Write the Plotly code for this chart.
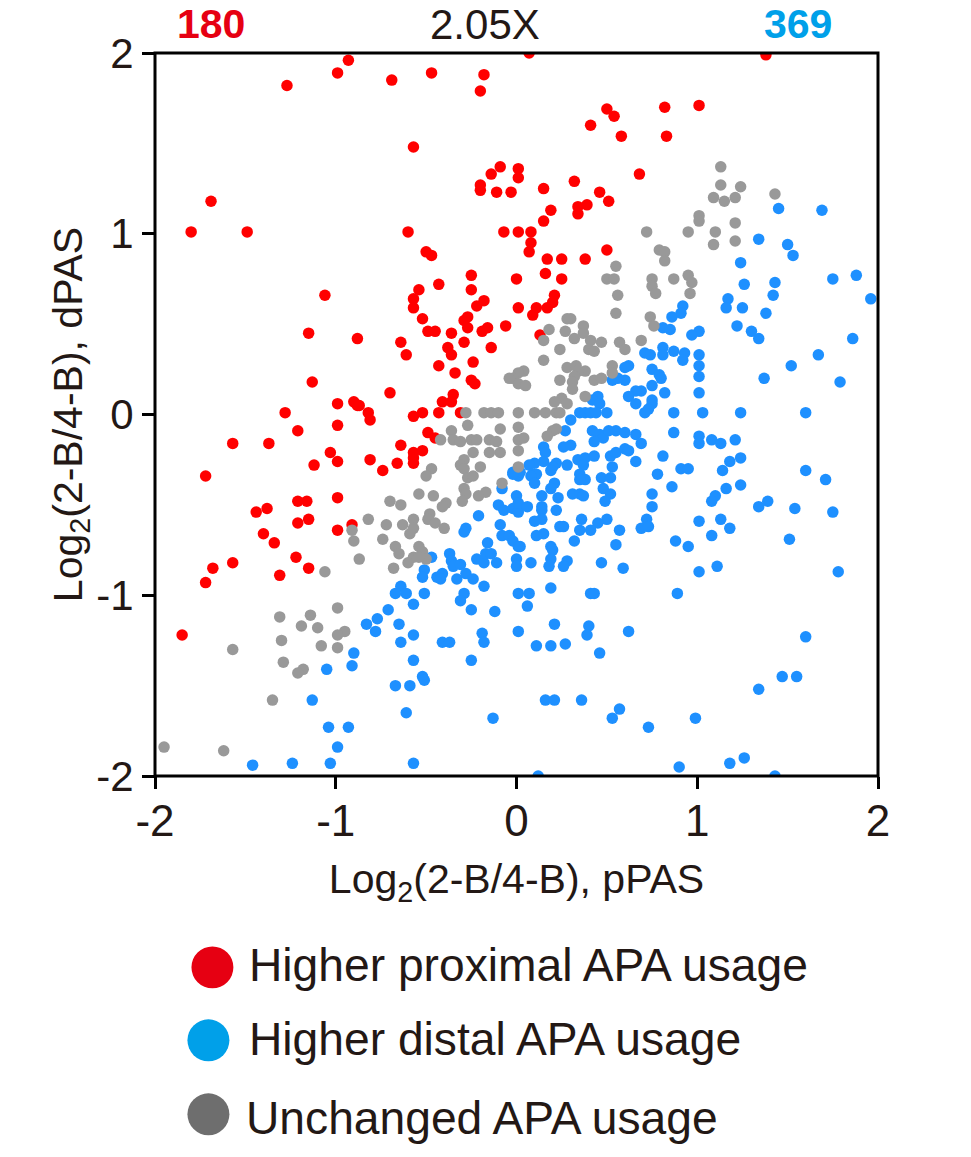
import plotly.graph_objects as go

title_left = "180"
title_mid = "2.05X"
title_right = "369"
tick_vals = [-2, -1, 0, 1, 2]
tick_text = ["-2", "-1", "0", "1", "2"]
legend_labels = ["Higher proximal APA usage", "Higher distal APA usage", "Unchanged APA usage"]

red_x = [-0.93,-0.99,-1.27,-0.69,-0.47,-0.18,-0.20,-0.57,-0.09,-0.14,0.01,0.01,-0.20,-0.20,-0.11,-0.03,-1.69,-1.80,-1.49,-0.60,-0.07,0.01,-0.50,-0.47,-0.25,0.00,-0.43,-0.25,-0.54,-1.06,-0.57,-0.57,-0.18,-0.22,0.01,-0.52,-0.27,-0.29,-0.27,-0.16,-0.19,-0.06,-1.15,-0.88,-0.49,-0.45,-0.36,-0.29,-0.64,-0.38,-0.36,-0.14,-0.61,-0.24,-0.43,-0.34,-0.25,-0.23,-1.13,-0.70,-0.35,-0.41,-0.36,-0.99,-0.90,-0.87,-0.88,-0.82,
 -1.28,-0.57,-0.52,-0.43,-0.31,-0.99,-0.81,-1.21,-1.57,-1.37,-0.64,-0.49,-0.45,-0.52,-0.57,-0.57,-0.57,-1.03,-0.99,-0.81,-0.66,-1.12,-0.74,-1.72,-1.21,-1.16,-0.99,-1.38,-1.44,-1.21,-1.15,-0.91,-0.99,-1.40,-1.34,-1.22,-1.57,-1.15,-1.68,-1.31,-1.72,-1.85,
 0.07,1.38,0.50,0.54,0.82,1.01,0.41,0.58,0.83,0.68,0.32,0.15,0.46,0.51,0.39,0.34,0.34,0.19,0.15,0.08,0.08,0.07,0.50,0.17,0.25,0.38,0.16,0.25,0.21,0.20,0.17,0.11,0.09,0.13]
red_y = [1.96,1.89,1.82,1.85,1.89,1.88,1.79,1.48,1.37,1.33,1.36,1.31,1.27,1.24,1.23,1.23,1.18,1.01,1.01,1.01,1.01,1.01,0.90,0.88,0.77,0.75,0.72,0.69,0.69,0.66,0.64,0.59,0.63,0.60,0.59,0.53,0.54,0.52,0.48,0.48,0.46,0.49,0.45,0.42,0.46,0.46,0.45,0.40,0.40,0.37,0.33,0.37,0.33,0.29,0.27,0.23,0.19,0.17,0.18,0.12,0.11,0.07,0.07,0.06,0.07,0.05,0.05,0.01,
 0.01,-0.01,0.01,0.01,0.01,-0.06,-0.03,-0.09,-0.16,-0.16,-0.17,-0.10,-0.13,-0.20,-0.21,-0.24,-0.27,-0.21,-0.26,-0.25,-0.27,-0.28,-0.31,-0.34,-0.48,-0.48,-0.46,-0.52,-0.54,-0.60,-0.58,-0.61,-0.64,-0.66,-0.71,-0.79,-0.82,-0.85,-0.85,-0.89,-0.93,-1.22,
 2.00,1.99,1.69,1.65,1.70,1.71,1.60,1.54,1.54,1.33,1.29,1.25,1.23,1.18,1.16,1.15,1.11,1.13,1.07,1.01,0.95,0.90,0.91,0.86,0.86,0.86,0.78,0.75,0.66,0.62,0.59,0.59,0.55,0.44]

gray_x = [1.13,1.13,1.24,1.09,1.15,1.21,1.43,1.01,1.01,1.21,0.72,0.95,1.10,1.09,1.21,0.79,0.82,0.82,0.55,0.50,0.54,0.75,0.75,0.77,0.87,0.95,0.97,0.96,0.56,0.55,0.74,0.76,0.30,0.28,0.18,0.27,0.37,0.37,0.32,0.41,0.47,0.15,0.57,0.60,0.69,0.24,0.40,0.43,0.15,0.28,0.33,0.38,0.34,0.53,0.53,0.32,0.31,0.24,0.43,0.47,0.31,0.38,0.25,0.21,0.28,0.04,0.01,-0.02,0.01,0.05,0.01,0.10,0.16,0.22,0.24,
 -0.04,-0.28,-0.18,-0.14,-0.10,
 -0.27,-0.36,-0.09,0.01,0.01,-0.42,-0.35,-0.31,-0.25,-0.22,-0.15,-0.11,-0.09,-0.15,-0.24,0.01,-0.29,-0.31,-0.29,-0.20,0.01,-0.47,-0.50,-0.27,-0.24,-0.08,-0.29,-0.28,-0.17,-0.21,-0.30,-0.54,-0.46,-0.70,-0.64,-0.39,-0.41,-0.82,-0.72,-0.63,-0.57,-0.48,-0.49,-0.45,-0.40,-0.57,-0.59,-0.91,-0.90,-0.74,-0.67,-0.65,-0.54,-0.52,-0.57,-0.50,-0.54,-0.60,-0.87,-0.68,-1.06,-0.99,-1.31,-1.14,-1.19,-1.10,-0.95,-0.99,-1.30,-1.08,-0.99,-1.57,-1.29,-1.18,-1.21,-1.35,-1.95,-1.62,
 0.17,0.20,0.22,0.04]
gray_y = [1.37,1.27,1.26,1.20,1.18,1.20,1.22,1.10,1.07,1.06,1.01,1.01,1.01,0.94,0.96,0.91,0.90,0.85,0.82,0.75,0.75,0.75,0.71,0.67,0.75,0.77,0.73,0.67,0.66,0.56,0.54,0.49,0.53,0.53,0.47,0.46,0.49,0.45,0.42,0.41,0.40,0.41,0.40,0.36,0.41,0.36,0.36,0.35,0.30,0.26,0.27,0.24,0.24,0.27,0.23,0.21,0.18,0.19,0.19,0.20,0.14,0.10,0.09,0.07,0.06,0.24,0.23,0.20,0.17,0.16,0.01,0.01,0.01,0.01,0.01,
 0.20,0.01,0.01,0.01,0.01,
 -0.06,-0.09,-0.08,-0.07,-0.14,-0.14,-0.14,-0.15,-0.14,-0.14,-0.14,-0.15,-0.21,-0.21,-0.21,-0.20,-0.25,-0.28,-0.30,-0.29,-0.29,-0.30,-0.34,-0.35,-0.34,-0.38,-0.41,-0.44,-0.43,-0.45,-0.48,-0.44,-0.45,-0.48,-0.50,-0.49,-0.51,-0.58,-0.61,-0.61,-0.58,-0.55,-0.58,-0.60,-0.63,-0.63,-0.66,-0.64,-0.70,-0.69,-0.73,-0.77,-0.73,-0.76,-0.79,-0.80,-0.79,-0.82,-0.80,-0.85,-0.87,-1.07,-1.12,-1.11,-1.17,-1.18,-1.20,-1.22,-1.25,-1.28,-1.29,-1.30,-1.37,-1.41,-1.43,-1.58,-1.84,-1.86,
 -0.12,-0.09,-0.08,-0.13]

blue_x = [-0.47,-0.37,-0.36,-0.35,-0.31,-0.22,-0.18,-0.17,-0.14,-0.11,-0.16,0.00,0.00,-0.08,-0.04,-0.02,0.01,-0.09,-0.10,-0.07,-0.02,0.01,0.00,0.01,-0.08,-0.02,0.01,-0.21,-0.28,-0.29,-0.51,-0.52,-0.41,-0.44,-0.42,-0.33,-0.28,-0.24,-0.18,-0.64,-0.67,-0.61,-0.51,-0.57,-0.29,-0.31,-0.25,-0.12,0.01,0.01,-0.71,-0.77,-0.83,-0.78,-0.65,-0.57,-0.64,-0.41,-0.37,-0.19,-0.18,-0.90,-0.91,-1.05,-0.57,-0.25,-0.52,-0.51,-0.67,-0.59,-1.13,-0.61,-0.13,-1.04,-0.93,-0.99,-1.46,-1.24,-1.03,-0.57,
 1.45,1.69,1.34,1.50,1.53,1.24,1.88,1.75,1.26,1.43,1.42,1.96,1.17,1.16,1.25,1.38,0.92,0.91,0.86,1.22,1.30,1.34,1.86,0.81,0.85,1.01,0.97,1.67,1.52,1.01,1.01,1.01,1.37,1.79,1.01,0.71,0.74,0.81,0.81,0.87,0.93,0.92,0.62,0.60,0.75,0.79,0.80,0.53,0.60,0.56,0.75,0.69,0.66,0.82,0.62,0.66,0.75,0.75,0.73,0.45,0.42,0.46,0.87,1.03,1.24,1.60,0.50,0.35,0.38,0.41,0.44,0.71,
 0.30,0.27,0.42,0.46,0.48,0.51,0.55,0.60,0.66,0.69,0.43,0.87,1.01,1.01,1.08,1.13,1.21,0.15,0.16,0.15,0.26,0.30,0.10,0.07,0.02,-0.02,0.09,0.11,0.08,0.10,0.22,0.20,0.19,0.28,0.34,0.38,0.43,0.37,0.35,0.38,0.35,0.52,0.55,0.60,0.62,0.66,0.53,0.81,0.78,0.91,0.95,1.24,1.18,1.14,1.60,1.71,0.47,0.52,0.48,0.52,0.49,0.21,0.19,0.86,1.16,1.24,0.75,0.75,1.10,1.08,1.34,1.39,1.54,1.75,0.06,0.14,0.23,0.31,0.35,0.37,0.14,0.14,0.22,0.36,0.50,0.45,0.41,0.35,0.24,0.26,0.14,0.10,0.15,0.11,0.57,0.32,0.55,0.72,0.69,0.73,1.01,1.13,1.18,1.08,0.88,0.95,1.51,0.19,0.20,0.19,0.18,0.28,0.26,0.08,0.02,0.47,0.59,1.01,1.11,1.78,0.19,0.07,0.06,0.41,0.43,0.89,0.21,0.40,0.39,0.62,1.60,0.11,0.19,0.27,0.46,1.47,1.55,1.34,0.16,0.21,0.36,0.57,0.53,0.73,0.99,0.90,1.18,1.26,0.12,1.43]
blue_y = [-0.79,-0.77,-0.81,-0.84,-0.83,-0.80,-0.82,-0.77,-0.77,-0.82,-0.71,-0.80,-0.84,-0.67,-0.67,-0.70,-0.73,-0.61,-0.50,-0.53,-0.52,-0.54,-0.45,-0.49,-0.41,-0.32,-0.34,-0.56,-0.63,-0.65,-0.86,-0.90,-0.88,-0.90,-0.91,-0.91,-0.88,-0.91,-0.95,-0.95,-0.99,-0.99,-0.99,-1.05,-0.99,-1.03,-1.08,-1.09,-0.99,-1.20,-1.08,-1.13,-1.16,-1.20,-1.16,-1.22,-1.26,-1.26,-1.26,-1.21,-1.26,-1.32,-1.39,-1.41,-1.36,-1.36,-1.45,-1.47,-1.50,-1.50,-1.58,-1.65,-1.68,-1.73,-1.73,-1.84,-1.94,-1.93,-1.93,-1.93,
 1.14,1.13,0.97,0.94,0.88,0.84,0.77,0.75,0.72,0.73,0.66,0.64,0.64,0.59,0.59,0.56,0.60,0.56,0.54,0.49,0.46,0.42,0.42,0.48,0.47,0.46,0.44,0.33,0.27,0.33,0.27,0.21,0.20,0.18,0.12,0.34,0.33,0.37,0.33,0.35,0.34,0.30,0.27,0.26,0.25,0.22,0.20,0.19,0.19,0.20,0.16,0.13,0.13,0.12,0.10,0.06,0.08,0.06,0.03,0.10,0.08,0.06,0.01,0.01,0.01,0.01,0.01,0.01,0.01,0.01,0.01,0.01,
 -0.03,-0.09,-0.09,-0.11,-0.13,-0.09,-0.09,-0.10,-0.11,-0.16,-0.15,-0.10,-0.12,-0.16,-0.14,-0.16,-0.14,-0.18,-0.21,-0.26,-0.18,-0.17,-0.27,-0.28,-0.32,-0.33,-0.33,-0.33,-0.34,-0.38,-0.27,-0.29,-0.31,-0.28,-0.25,-0.24,-0.23,-0.28,-0.33,-0.36,-0.36,-0.23,-0.21,-0.19,-0.20,-0.26,-0.29,-0.23,-0.33,-0.30,-0.30,-0.24,-0.26,-0.31,-0.31,-0.36,-0.35,-0.35,-0.41,-0.44,-0.48,-0.38,-0.41,-0.40,-0.41,-0.39,-0.44,-0.51,-0.45,-0.48,-0.51,-0.48,-0.52,-0.54,-0.51,-0.45,-0.46,-0.44,-0.44,-0.45,-0.51,-0.53,-0.53,-0.58,-0.58,-0.60,-0.64,-0.64,-0.62,-0.62,-0.58,-0.59,-0.66,-0.67,-0.64,-0.70,-0.72,-0.58,-0.63,-0.62,-0.59,-0.58,-0.63,-0.67,-0.70,-0.73,-0.69,-0.73,-0.75,-0.80,-0.84,-0.81,-0.84,-0.82,-0.73,-0.82,-0.85,-0.87,-0.84,-0.87,-0.96,-0.99,-1.06,-0.99,-0.99,-0.99,-1.16,-1.17,-1.22,-1.20,-1.23,-1.28,-1.28,-1.27,-1.32,-1.45,-1.45,-1.52,-1.58,-1.58,-1.58,-1.63,-1.68,-1.73,-1.68,-1.95,-1.93,-1.90,-2.00,-2.00]

# page geometry: the page body adds 8 px around the figure
W, H = 955, 1141
L, R, T, B = 146.5, 84.5, 45, 372.5
def px(x): return (x - 8 - L) / (W - L - R)
def py(y): return 1 - (y - 8 - T) / (H - T - B)

FONT = "Liberation Sans, Arial, sans-serif"
TEXT = "#231815"
RED, BLUE, GRAY = "#ff0000", "#1e90ff", "#999999"
L_RED, L_BLUE, L_GRAY = "#e60012", "#00a0e9", "#6e6e6e"

fig = go.Figure()
for xs, ys, c in [(red_x, red_y, RED), (blue_x, blue_y, BLUE), (gray_x, gray_y, GRAY)]:
    fig.add_trace(go.Scatter(x=xs, y=ys, mode="markers", showlegend=False,
                             marker=dict(size=11.5, color=c, line=dict(width=0))))

axis = dict(range=[-2, 2], tickmode="array", tickvals=tick_vals, ticktext=tick_text,
            showgrid=False, zeroline=False, showline=False,
            ticks="outside", ticklen=12, tickwidth=3, tickcolor="#000000")
fig.update_xaxes(**axis, tickfont=dict(family=FONT, size=44, color=TEXT), ticklabelstandoff=-6,
                 title=dict(text="Log<sub>2</sub>(2-B/4-B), pPAS", standoff=20,
                            font=dict(family=FONT, size=41, color=TEXT)))
fig.update_yaxes(**axis, tickfont=dict(family=FONT, size=42, color=TEXT),
                 title=dict(text="Log<sub>2</sub>(2-B/4-B), dPAS", standoff=0,
                            font=dict(family=FONT, size=41, color=TEXT)))

# frame drawn centred on the plot-area edge, as in the reference
fig.add_shape(type="rect", xref="paper", yref="paper", x0=0, x1=1, y0=0, y1=1,
              line=dict(color="#000000", width=3), layer="above")

anns = [(211, 24, title_left, L_RED, 41, True, "center"),
        (485, 24, title_mid, TEXT, 42, False, "center"),
        (798, 24, title_right, L_BLUE, 41, True, "center"),
        (247, 966, legend_labels[0], TEXT, 46.2, False, "left"),
        (247, 1040, legend_labels[1], TEXT, 46.2, False, "left"),
        (244, 1119, legend_labels[2], TEXT, 46.2, False, "left")]
for x, y, t, c, s, b, al in anns:
    fig.add_annotation(x=px(x), y=py(y), xref="paper", yref="paper", text=f"<b>{t}</b>" if b else t,
                       showarrow=False, xanchor=al, yanchor="middle",
                       font=dict(family=FONT, size=s, color=c))
for cx, cy, c in [(212, 968, L_RED), (208, 1041, L_BLUE), (208, 1115, L_GRAY)]:
    fig.add_shape(type="circle", xref="paper", yref="paper", line_width=0, fillcolor=c,
                  x0=px(cx - 21), x1=px(cx + 21), y0=py(cy + 21), y1=py(cy - 21))

fig.update_layout(width=W, height=H, margin=dict(l=L, r=R, t=T, b=B),
                  plot_bgcolor="white", paper_bgcolor="white", font=dict(family=FONT))
fig.write_html("out.html")
